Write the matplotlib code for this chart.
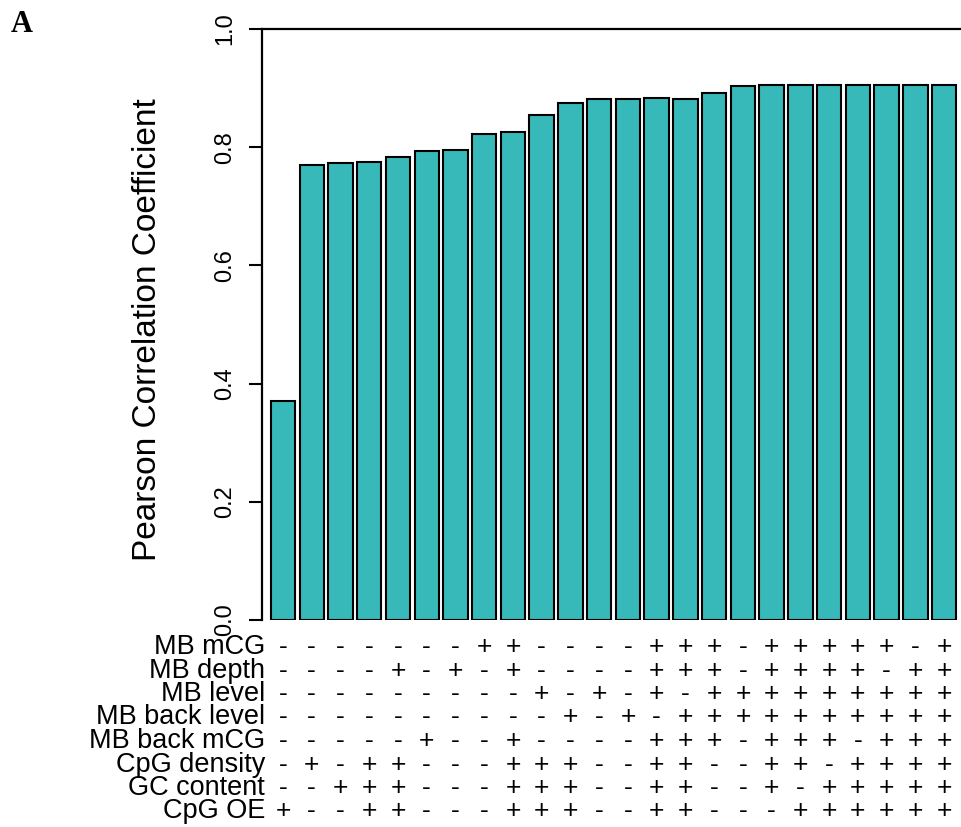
import matplotlib
matplotlib.use("Agg")
import matplotlib.pyplot as plt
import numpy as np

# Pearson correlation for each feature combination
pearson_r = [0.370, 0.770, 0.773, 0.775, 0.784, 0.793, 0.795, 0.823,
             0.825, 0.854, 0.874, 0.881, 0.881, 0.883, 0.882, 0.891,
             0.904, 0.906, 0.906, 0.906, 0.905, 0.906, 0.906, 0.906]

features = ["MB mCG", "MB depth", "MB level", "MB back level",
            "MB back mCG", "CpG density", "GC content", "CpG OE"]

# which features enter each model (+ used, - not used), one string per feature
feature_use = [
    "-------++----+++-+++++-+",
    "----+-+-+----+++-++++-++",
    "---------+-+-+-+++++++++",
    "----------+-+-++++++++++",
    "-----+--+----+++-+++-+++",
    "-+-++---+++--++--++-++++",
    "--+++---+++--++--+-+++++",
    "+--++---+++--++---++++++",
]

bar_color = "#37b8b9"
W, H = 962, 827

fig = plt.figure(figsize=(W / 100, H / 100), dpi=100)
ax = fig.add_axes([262 / W, 1 - 620 / H, 1 - 262 / W, (620 - 29) / H])

x = np.arange(len(pearson_r))
ax.bar(x, pearson_r, width=0.85, color=bar_color, edgecolor="black",
       linewidth=1.5)

ax.set_xlim(-0.73, 23.62)
ax.set_ylim(0, 1)
ax.set_xticks([])
ticks = np.arange(0, 1.01, 0.2)
ax.set_yticks(ticks)
ax.set_yticklabels([f"{v:.1f}" for v in ticks], rotation=90, va="center",
                   family="Liberation Sans", fontsize=17)
ax.tick_params(axis="y", length=9.4, width=1.5, pad=9)
for side in ("bottom", "right"):
    ax.spines[side].set_visible(False)
for side in ("left", "top"):
    ax.spines[side].set_linewidth(1.6)

fig.text(148 / W, 1 - 330 / H, "Pearson Correlation Coefficient",
         rotation=90, ha="center", va="center", fontsize=24,
         family="Liberation Sans")

fig.text(22 / W, 1 - 24 / H, "A", ha="center", va="center", fontsize=22,
         fontweight="bold", family="Liberation Serif")

# feature table under the bars
trans = ax.get_xaxis_transform()
pos = ax.get_position()
for row, (name, marks) in enumerate(zip(features, feature_use)):
    y_fig = 1 - (647 + 23.5 * row) / H
    fig.text(265 / W, y_fig, name, ha="right", va="center", fontsize=19.5,
             family="Liberation Sans")
    y_ax = (y_fig - pos.y0) / pos.height
    for i, m in enumerate(marks):
        ax.text(x[i], y_ax, m, transform=trans, ha="center", va="center",
                fontsize=19, family="Liberation Sans", clip_on=False)

fig.savefig("out.png", dpi=100)
